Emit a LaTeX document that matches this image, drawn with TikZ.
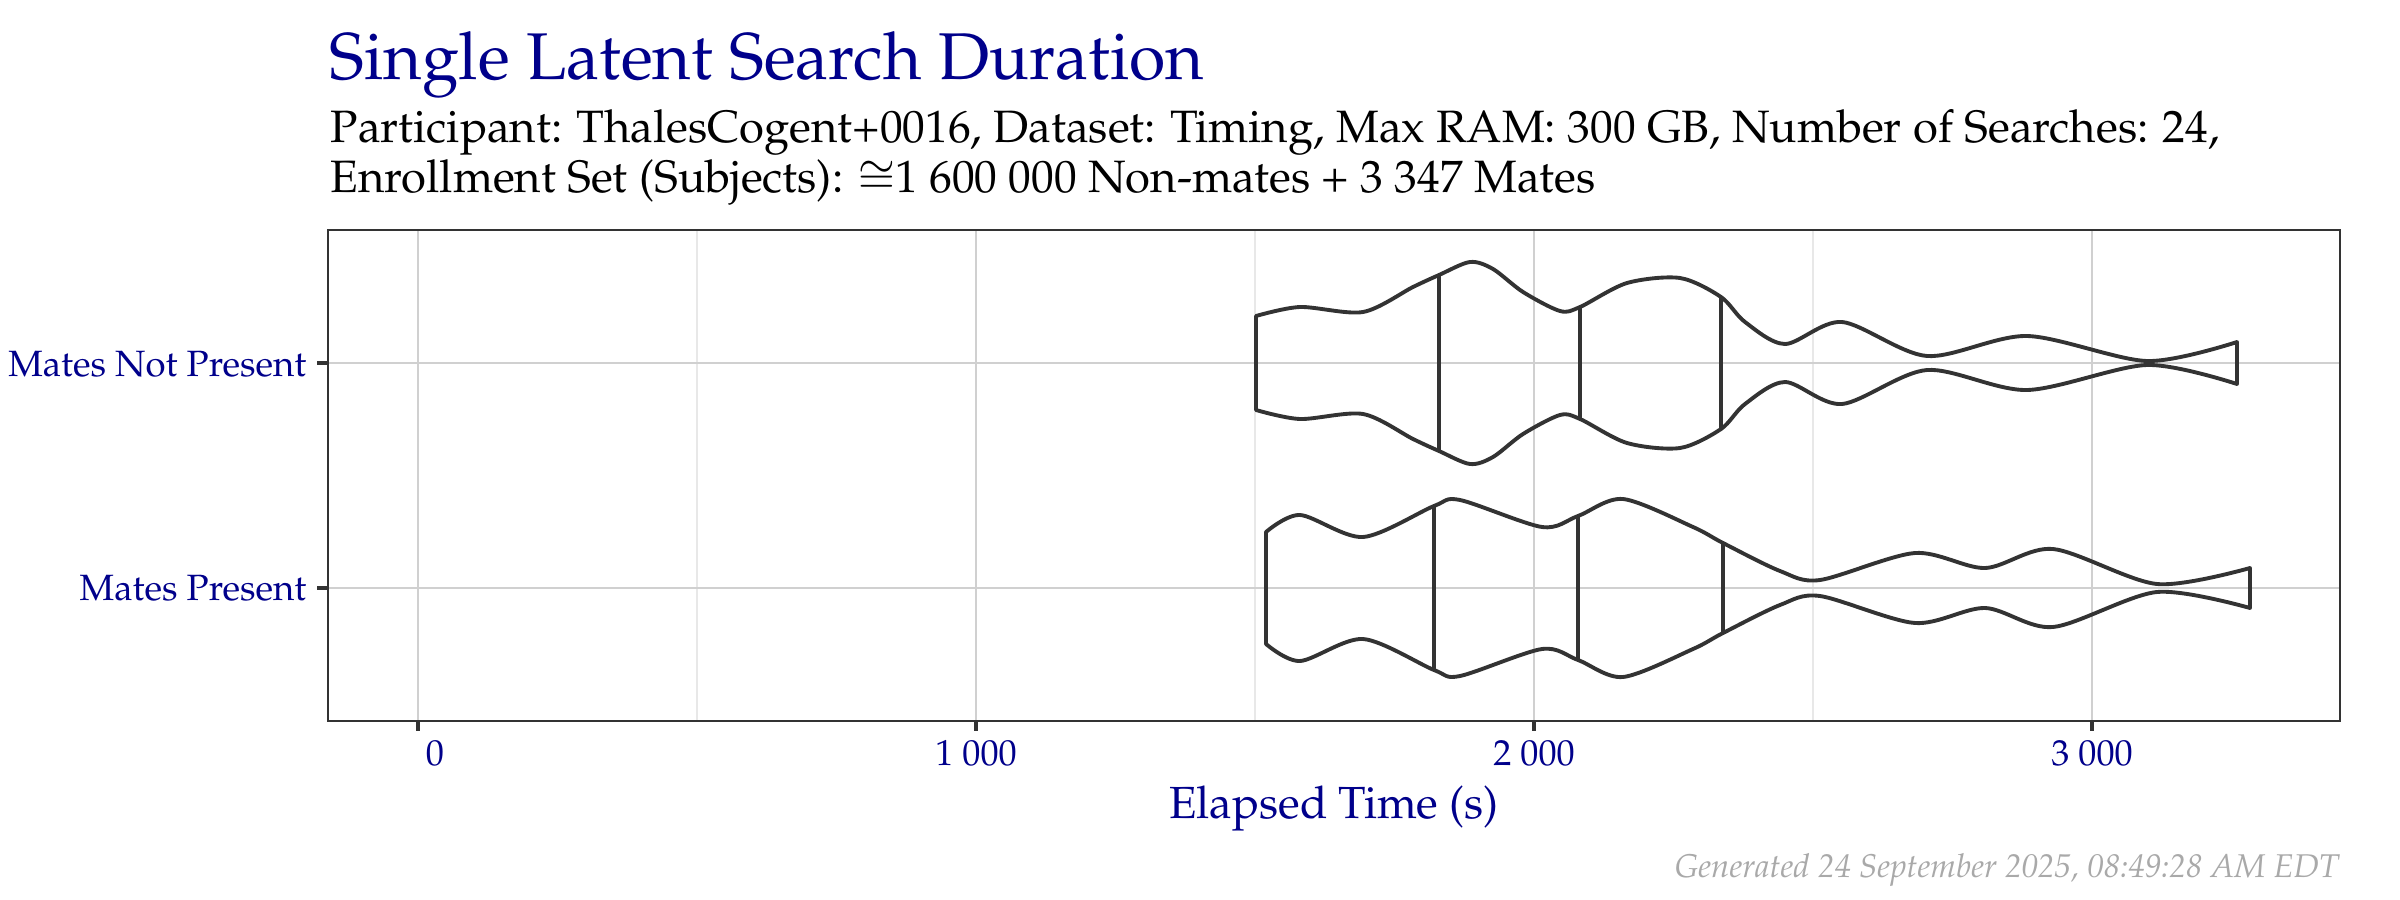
\documentclass[tikz,border=0pt]{standalone}
\usepackage[T1]{fontenc}
\usepackage{mathpazo}

\definecolor{navy}{RGB}{0,0,139}
\definecolor{ink}{RGB}{51,51,51}
\definecolor{gridmaj}{RGB}{208,208,208}
\definecolor{gridmin}{RGB}{232,232,232}
\definecolor{stamp}{RGB}{169,169,169}

\tikzset{
  violin/.style={draw=ink, line width=1.1pt, line join=round},
  qline/.style={draw=ink, line width=0.95pt},
  ticklab/.style={text=navy, font=\fontsize{10.3}{12}\selectfont, anchor=base, inner sep=0pt},
  catlab/.style={text=navy, font=\fontsize{10.4}{12}\selectfont, anchor=base east, inner sep=0pt},
}

\begin{document}
\begin{tikzpicture}[x=0.01cm, y=-0.01cm]
	\useasboundingbox[fill=white] (0,0) rectangle (2400,900);

	% titles
	\node[anchor=base west, text=navy, font=\fontsize{18.8}{23}\selectfont, inner sep=0pt] (title) at (329,79) {Single Latent Search Duration};
	\node[anchor=base west, font=\fontsize{12.9}{15}\selectfont, inner sep=0pt] (sub1) at (330,142) {Participant: ThalesCogent+0016, Dataset: Timing, Max RAM: 300 GB, Number of Searches: 24,};
	\node[anchor=base west, font=\fontsize{12.9}{15}\selectfont, inner sep=0pt] (sub2) at (330,192) {Enrollment Set (Subjects): $\cong$1 600 000 Non-mates + 3 347 Mates};

	% grid
	\foreach \gx in {697,1255,1813} \draw[gridmin, line width=0.3pt] (\gx,230) -- (\gx,721);
	\foreach \gx in {418,976,1534,2092} \draw[gridmaj, line width=0.55pt] (\gx,230) -- (\gx,721);
	\foreach \gy in {363,588} \draw[gridmaj, line width=0.55pt] (328,\gy) -- (2340,\gy);

	% mates not present
	\begin{scope}[shift={(0,363)}]
	    \draw[violin] plot [smooth] coordinates{(1256,-47) (1300,-56) (1363,-51) (1413,-76) (1439,-88) (1470,-101) (1493,-94) (1523,-71) (1560,-52) (1580,-56) (1627,-80) (1680,-85) (1721,-66) (1745,-41) (1785,-19) (1842,-41) (1927,-7) (2027,-27) (2147,-2) (2237,-21)}
	        -- plot [smooth] coordinates{(2237,21) (2147,2) (2027,27) (1927,7) (1842,41) (1785,19) (1745,41) (1721,66) (1680,85) (1627,80) (1580,56) (1560,52) (1523,71) (1493,94) (1470,101) (1439,88) (1413,76) (1363,51) (1300,56) (1256,47)} -- cycle;
	    \foreach \qx/\qw in {1439/88,1580/56,1721/66} \draw[qline] (\qx,-\qw) -- (\qx,\qw);
	\end{scope}

	% mates present
	\begin{scope}[shift={(0,588)}]
	    \draw[violin] plot [smooth] coordinates{(1266,-56) (1300,-73) (1363,-51) (1434,-82) (1460,-88) (1542,-61) (1578,-72) (1623,-89) (1693,-61) (1723,-45) (1780,-17) (1820,-8) (1915,-35) (1985,-20) (2053,-39) (2157,-4) (2250,-20)}
	        -- plot [smooth] coordinates{(2250,20) (2157,4) (2053,39) (1985,20) (1915,35) (1820,8) (1780,17) (1723,45) (1693,61) (1623,89) (1578,72) (1542,61) (1460,88) (1434,82) (1363,51) (1300,73) (1266,56)} -- cycle;
	    \foreach \qx/\qw in {1434/82,1578/72,1723/45} \draw[qline] (\qx,-\qw) -- (\qx,\qw);
	\end{scope}

	% panel and axes
	\draw[ink, line width=0.7pt] (328,230) rectangle (2340,721);
	\foreach \tx in {418,976,1534,2092} \draw[ink, line width=0.9pt] (\tx,721) -- (\tx,731);
	\foreach \ty in {363,588} \draw[ink, line width=0.9pt] (317,\ty) -- (328,\ty);

	\node[catlab] (mnp) at (307,376) {Mates Not Present};
	\node[catlab] (mp) at (307,600) {Mates Present};

	\node[ticklab] (t0) at (435,765) {0};
	\node[ticklab] (t1) at (976,765) {1 000};
	\node[ticklab] (t2) at (1534,765) {2 000};
	\node[ticklab] (t3) at (2092,765) {3 000};
	\node[anchor=base, text=navy, font=\fontsize{12.8}{15}\selectfont, inner sep=0pt] (xtitle) at (1334,818) {Elapsed Time (s)};

	\node[anchor=base east, text=stamp, font=\fontsize{9.35}{11}\selectfont\itshape, inner sep=0pt] (stamp) at (2340,877) {Generated 24 September 2025, 08:49:28 AM EDT};
\end{tikzpicture}
\end{document}
